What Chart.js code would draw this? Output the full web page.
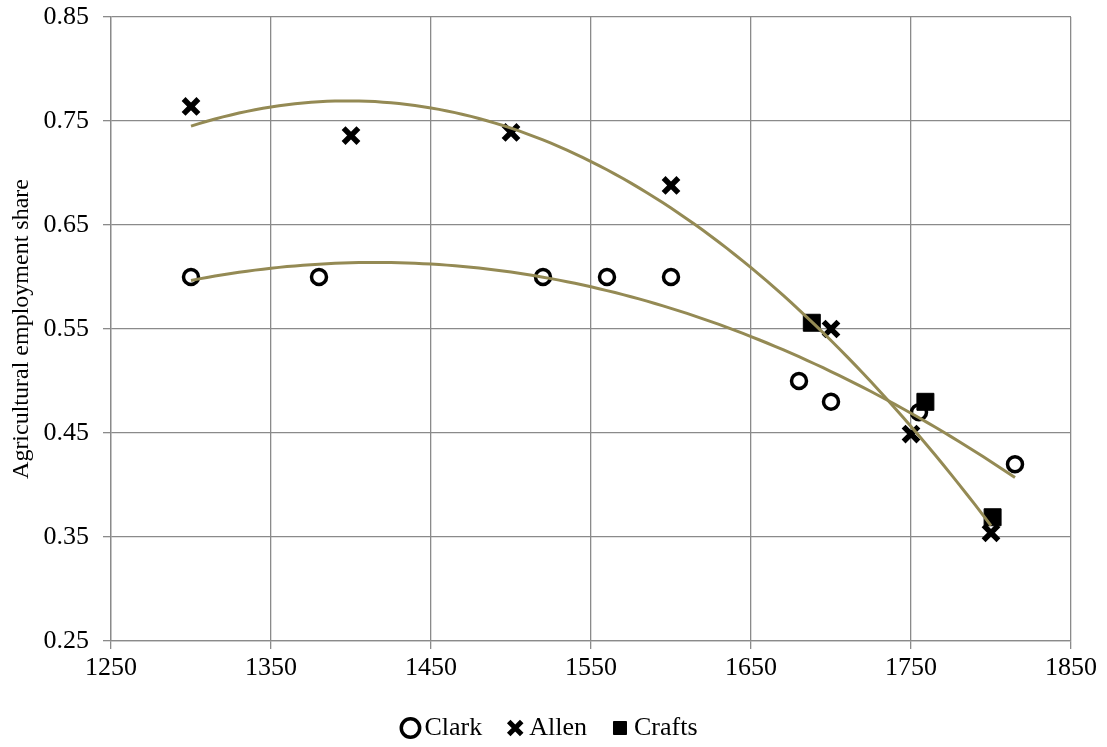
<!DOCTYPE html>
<html>
<head>
<meta charset="utf-8">
<script src="https://cdn.jsdelivr.net/npm/chart.js@4.4.1/dist/chart.umd.min.js"></script>
<style>
  html, body { margin: 0; padding: 0; background: #fff; }
  #wrap { width: 1107px; height: 747px; }
</style>
</head>
<body>
<div id="wrap"><canvas id="chart" width="1107" height="747"></canvas></div>
<script>
// values
const clarkYears = [1300, 1380, 1520, 1560, 1600, 1680, 1700, 1755, 1815];
const clarkShares = [0.60, 0.60, 0.60, 0.60, 0.60, 0.50, 0.48, 0.47, 0.42];

const allenYears = [1300, 1400, 1500, 1600, 1700, 1750, 1800];
const allenShares = [0.764, 0.736, 0.739, 0.688, 0.55, 0.449, 0.354];

const craftsYears = [1688, 1759, 1801];
const craftsShares = [0.556, 0.48, 0.369];

const yTicks = [0.25, 0.35, 0.45, 0.55, 0.65, 0.75, 0.85];
const xTicks = [1250, 1350, 1450, 1550, 1650, 1750, 1850];

const trendColor = '#948a54';
const gridColor = '#8a8a8a';
const serif = "'Liberation Serif', 'Times New Roman', serif";

function toPoints(xs, ys) {
    return xs.map((x, i) => ({ x: x, y: ys[i] }));
}

// 2nd order least squares fit, like the spreadsheet trendline
function polyTrend(xs, ys) {
    let x0 = xs.reduce((a, b) => a + b, 0) / xs.length;
    let s = [0, 0, 0, 0, 0], t = [0, 0, 0];
    xs.forEach((x, i) => {
        let u = (x - x0) / 100;
        for (let k = 0; k < 5; k++) s[k] += Math.pow(u, k);
        for (let k = 0; k < 3; k++) t[k] += Math.pow(u, k) * ys[i];
    });
    let m = [
        [s[0], s[1], s[2], t[0]],
        [s[1], s[2], s[3], t[1]],
        [s[2], s[3], s[4], t[2]]
    ];
    for (let i = 0; i < 3; i++) {
        for (let j = i + 1; j < 3; j++) {
            let f = m[j][i] / m[i][i];
            for (let k = i; k < 4; k++) m[j][k] -= f * m[i][k];
        }
    }
    let c = [0, 0, 0];
    for (let i = 2; i >= 0; i--) {
        let v = m[i][3];
        for (let k = i + 1; k < 3; k++) v -= m[i][k] * c[k];
        c[i] = v / m[i][i];
    }
    let lo = Math.min(...xs), hi = Math.max(...xs);
    let pts = [];
    for (let x = lo; x <= hi; x += 5) {
        let u = (x - x0) / 100;
        pts.push({ x: x, y: c[0] + c[1] * u + c[2] * u * u });
    }
    if (pts[pts.length - 1].x !== hi) {
        let u = (hi - x0) / 100;
        pts.push({ x: hi, y: c[0] + c[1] * u + c[2] * u * u });
    }
    return pts;
}

let ctx = document.getElementById('chart');

new Chart(ctx, {
    type: 'scatter',
    data: {
        datasets: [
            {
                label: 'Clark',
                data: toPoints(clarkYears, clarkShares),
                pointStyle: 'circle',
                pointRadius: 7.5,
                pointHoverRadius: 7.5,
                borderWidth: 3.5,
                borderColor: '#000',
                backgroundColor: 'rgba(255,255,255,0)',
                order: 3
            },
            {
                label: 'Allen',
                data: toPoints(allenYears, allenShares),
                pointStyle: 'crossRot',
                pointRadius: 10.5,
                pointHoverRadius: 10.5,
                borderWidth: 5.5,
                borderColor: '#000',
                backgroundColor: '#000',
                order: 3
            },
            {
                label: 'Crafts',
                data: toPoints(craftsYears, craftsShares),
                pointStyle: 'rect',
                pointRadius: 12,
                pointHoverRadius: 12,
                borderWidth: 1,
                borderColor: '#000',
                backgroundColor: '#000',
                order: 3
            },
            {
                label: 'trend-clark',
                data: polyTrend(clarkYears, clarkShares),
                showLine: true,
                pointRadius: 0,
                borderColor: trendColor,
                borderWidth: 3,
                tension: 0,
                order: 1
            },
            {
                label: 'trend-allen',
                data: polyTrend(allenYears, allenShares),
                showLine: true,
                pointRadius: 0,
                borderColor: trendColor,
                borderWidth: 3,
                tension: 0,
                order: 1
            }
        ]
    },
    options: {
        responsive: false,
        animation: false,
        layout: {
            padding: { left: 0, right: 0, top: 17, bottom: -4 }
        },
        plugins: {
            tooltip: { enabled: false },
            legend: {
                position: 'bottom',
                labels: {
                    usePointStyle: true,
                    boxWidth: 2,
                    boxHeight: 13,
                    padding: 32,
                    color: '#000',
                    font: { family: serif, size: 26 },
                    filter: (item) => !item.text.startsWith('trend'),
                    generateLabels: (chart) => {
                        let items = Chart.defaults.plugins.legend.labels.generateLabels(chart);
                        items.forEach(it => {
                            if (it.pointStyle === 'circle') it.lineWidth = 3.5;
                            if (it.pointStyle === 'crossRot') it.lineWidth = 5;
                        });
                        return items;
                    }
                }
            }
        },
        scales: {
            x: {
                type: 'linear',
                min: 1250,
                max: 1850,
                afterBuildTicks: (scale) => {
                    scale.ticks = xTicks.map(v => ({ value: v }));
                },
                afterFit: (scale) => {
                    scale.height = 42;
                    scale.paddingRight = 36;
                    scale.paddingLeft = 0;
                },
                grid: {
                    color: gridColor,
                    lineWidth: 1.3,
                    tickLength: 8,
                    tickColor: gridColor
                },
                border: { color: gridColor, width: 1.3 },
                ticks: {
                    color: '#000',
                    padding: 4,
                    maxRotation: 0,
                    font: { family: serif, size: 26 },
                    callback: (v) => String(v)
                }
            },
            y: {
                min: 0.25,
                max: 0.85,
                afterBuildTicks: (scale) => {
                    scale.ticks = yTicks.map(v => ({ value: v }));
                },
                afterFit: (scale) => {
                    scale.width = 111;
                    scale.paddingTop = 0;
                    scale.paddingBottom = 0;
                },
                grid: {
                    color: gridColor,
                    lineWidth: 1.3,
                    tickLength: 8,
                    tickColor: gridColor
                },
                border: { color: gridColor, width: 1.3 },
                title: {
                    display: true,
                    text: 'Agricultural employment share',
                    color: '#000',
                    font: { family: serif, size: 24 },
                    padding: { top: 7, bottom: 0 }
                },
                ticks: {
                    color: '#000',
                    padding: 14,
                    font: { family: serif, size: 26 },
                    callback: (v) => Number(v).toFixed(2)
                }
            }
        }
    }
});
</script>
</body>
</html>
